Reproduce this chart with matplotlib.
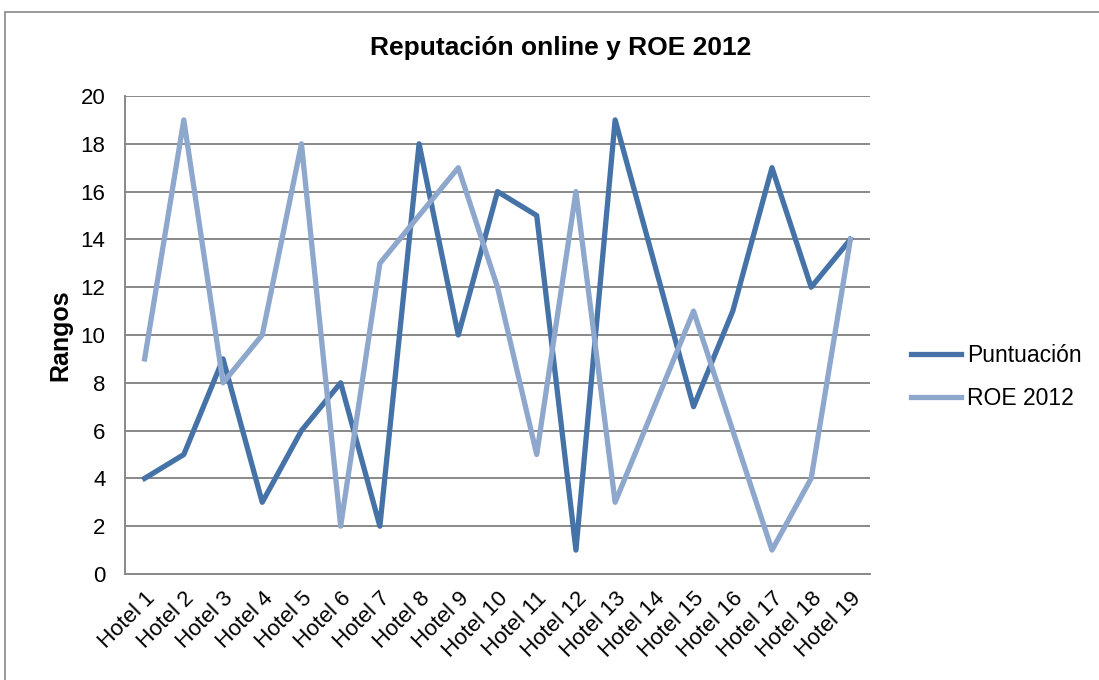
import matplotlib
matplotlib.use('Agg')
from matplotlib import pyplot as plt
from matplotlib.patches import Rectangle

hotels = ['Hotel {}'.format(i) for i in range(1, 20)]
puntuacion = [4, 5, 9, 3, 6, 8, 2, 18, 10, 16, 15, 1, 19, 13, 7, 11, 17, 12, 14]
roe_2012 = [9, 19, 8, 10, 18, 2, 13, 15, 17, 12, 5, 16, 3, 7, 11, 6, 1, 4, 14]

plt.rcParams['font.family'] = ['Liberation Sans', 'DejaVu Sans']

W, H = 1099, 680
fig = plt.figure(figsize=(W / 100, H / 100), dpi=100)
ax = fig.add_axes([125 / W, 1 - 574 / H, 745 / W, (574 - 96) / H])

# outer chart border
fig.patches.append(Rectangle((5 / W, -0.1), 1.2, 1 - 12 / H + 0.1, transform=fig.transFigure,
                             fill=False, edgecolor='#888888', linewidth=1.2))

x = list(range(len(hotels)))
ax.plot(x, puntuacion, color='#4572A7', linewidth=3.8, label='Puntuación')
ax.plot(x, roe_2012, color='#8EA7CD', linewidth=3.8, label='ROE 2012')

ax.set_xlim(-0.5, len(hotels) - 0.5)
ax.set_ylim(0, 20)
ax.set_yticks(range(0, 21, 2))
ax.set_xticks(x)
ax.set_xticklabels(hotels, rotation=45, ha='right', rotation_mode='anchor', fontsize=16)
ax.tick_params(axis='y', labelsize=16, length=0, pad=14)
ax.tick_params(axis='x', length=0, pad=10)
ax.grid(axis='y', color='#888888', linewidth=1.4)
ax.set_axisbelow(True)
for s in ['top', 'right']:
    ax.spines[s].set_visible(False)
for s in ['left', 'bottom']:
    ax.spines[s].set_color('#888888')
    ax.spines[s].set_linewidth(1.4)

ax.set_ylabel('Rangos', fontsize=18, fontweight='bold', labelpad=6)
fig.text(561 / W, 1 - 48 / H, 'Reputación online y ROE 2012', fontsize=19,
         fontweight='bold', ha='center', va='center')

ax.legend(loc='center left', bbox_to_anchor=(890 / W, 1 - 377 / H), bbox_transform=fig.transFigure,
          frameon=False, fontsize=16.5, handlelength=2.2, handletextpad=0.25, labelspacing=0.85)

fig.savefig('out.png', dpi=100)
